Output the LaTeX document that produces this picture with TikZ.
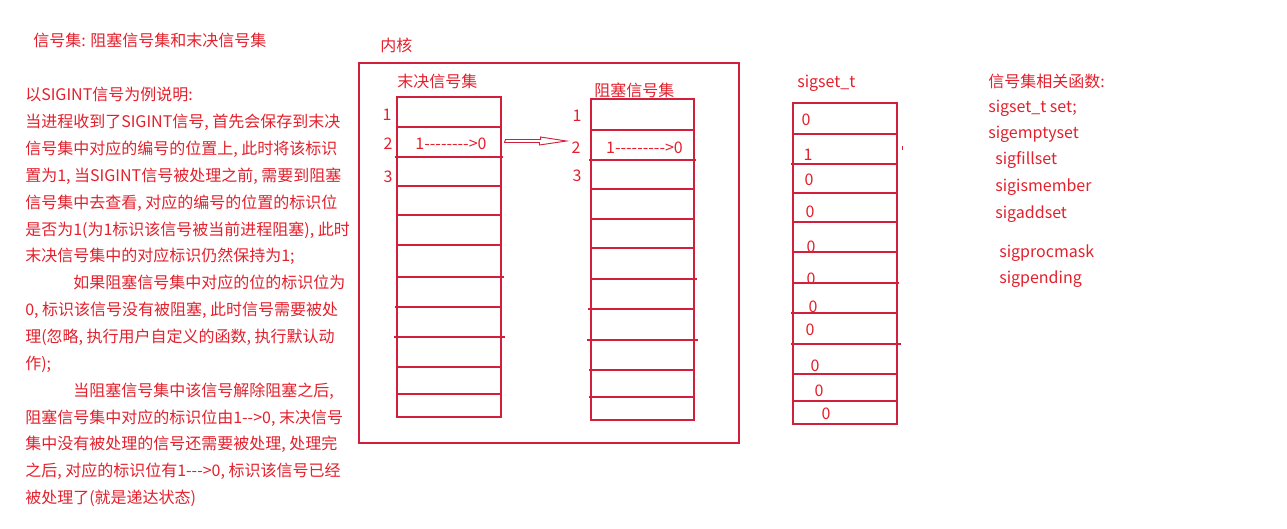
\documentclass[tikz,border=0pt]{standalone}
\usepackage{fontspec}
\newfontfamily\cjk{Noto Sans CJK SC}
\usetikzlibrary{positioning,calc}
\definecolor{noteRed}{HTML}{E3202C}
\definecolor{lineRed}{HTML}{D21F3C}
\newdimen\px \px=0.75pt

\begin{document}
\begin{tikzpicture}[
    x=1\px, y=-1\px,
    redline/.style={draw=lineRed, line width=0.8pt},
    setbox/.style n args={2}{
        rectangle,
        redline,
        inner sep=0pt,
        minimum width=#1\px,
        minimum height=#2\px,
    },
    note/.style={
        font=\cjk\fontsize{12pt}{20.15pt}\selectfont,
        text=noteRed,
        inner sep=0pt,
    },
]
    \useasboundingbox (0,0) rectangle (1287,528);

    % Title and explanation
    \node[note, anchor=base west] (title) at (33,47) {信号集: 阻塞信号集和末决信号集};
    \node[note, anchor=north west, align=left] (explain) at (25,87) {%
        以SIGINT信号为例说明:\\
        当进程收到了SIGINT信号, 首先会保存到末决\\
        信号集中对应的编号的位置上, 此时将该标识\\
        置为1, 当SIGINT信号被处理之前, 需要到阻塞\\
        信号集中去查看, 对应的编号的位置的标识位\\
        是否为1(为1标识该信号被当前进程阻塞), 此时\\
        末决信号集中的对应标识仍然保持为1;\\
        \hspace*{36pt}如果阻塞信号集中对应的位的标识位为\\
        0, 标识该信号没有被阻塞, 此时信号需要被处\\
        理(忽略, 执行用户自定义的函数, 执行默认动\\
        作);\\
        \hspace*{36pt}当阻塞信号集中该信号解除阻塞之后,\\
        阻塞信号集中对应的标识位由1-->0, 末决信号\\
        集中没有被处理的信号还需要被处理, 处理完\\
        之后, 对应的标识位有1--->0, 标识该信号已经\\
        被处理了(就是递达状态)};

    % Kernel frame
    \node[setbox={380}{380}] (kernel) at (549,253) {};
    \node[note, anchor=base west] (kernelname) at (380,51) {内核};

    % Pending set, blocked set, sigset_t
    \node[setbox={104}{320}] (pending) at (449,257) {};
    \node[setbox={103}{321}] (blocked) at (642.5,259.5) {};
    \node[setbox={104}{321}] (sigset) at (845,263.5) {};
    \node[note, anchor=base west] (pendingname) at (397,88) {末决信号集};
    \node[note, anchor=base west] (blockedname) at (594,96) {阻塞信号集};
    \node[note, anchor=base west] (sigsetname) at (797,87) {sigset\_t};

    % Row lines
    \foreach \y/\a/\b in {127/397/501, 157/395/503, 186/396/501, 215/397/501,
        245/397/501, 277/398/504, 307/395/502, 337/394/505, 367/396/502, 394/396/501}
        \draw[redline] (\a,\y) -- (\b,\y);
    \foreach \y/\a/\b in {130/592/694, 160/589/696, 189/590/694, 219/590/694,
        248/591/694, 279/591/697, 309/588/695, 340/587/698, 370/589/695, 397/589/694}
        \draw[redline] (\a,\y) -- (\b,\y);
    \foreach \y/\a/\b in {134/794/897, 164/791/898, 193/792/897, 222/793/897,
        252/793/897, 283/793/899, 313/791/898, 344/791/901, 374/792/898, 401/792/897}
        \draw[redline] (\a,\y) -- (\b,\y);

    % Signal numbers
    \foreach \n/\x/\y in {1/387/115, 2/388/144, 3/388/177}
        \node[note] (pnum\n) at (\x,\y) {\n};
    \foreach \n/\x/\y in {1/577/116, 2/576/148, 3/577/176}
        \node[note] (bnum\n) at (\x,\y) {\n};

    % Flag change
    \node[note] (pendflag) at (451,144) {1-------->0};
    \node[note] (blockflag) at (644.5,148) {1--------->0};

    % Bits of sigset_t
    \foreach \v/\x/\y [count=\i] in {0/806/120, 1/808/155, 0/809/180, 0/810/212,
        0/811/247, 0/811/279, 0/813/307, 0/810/330, 0/815/366, 0/819/391, 0/826/414}
        \node[note] (bit\i) at (\x,\y) {\v};
    \draw[redline, line width=0.5pt] (902,146) -- (902,150);

    % Hollow arrow pending -> blocked
    \coordinate (arrowtail) at ($(pending.east)+(4,-116)$);
    \coordinate (arrowtip) at ($(blocked.west)+(-24,-118.5)$);
    \draw[redline, line width=0.7pt] ($(arrowtail)+(0,-1.5)$) -- ++(35,0) -- ++(0,-2.5)
        -- (arrowtip) -- ++(-27,4) -- ++(0,-2.5) -- ++(-35,0) -- cycle;

    % Related functions
    \foreach \t/\x/\y [count=\i] in {{信号集相关函数:}/988/87, {sigset\_t set;}/988/112,
        {sigemptyset}/988/138, {sigfillset}/995/164, {sigismember}/995/191,
        {sigaddset}/995/218, {sigprocmask}/999/257, {sigpending}/999/283}
        \node[note, anchor=base west] (func\i) at (\x,\y) {\t};
\end{tikzpicture}
\end{document}
